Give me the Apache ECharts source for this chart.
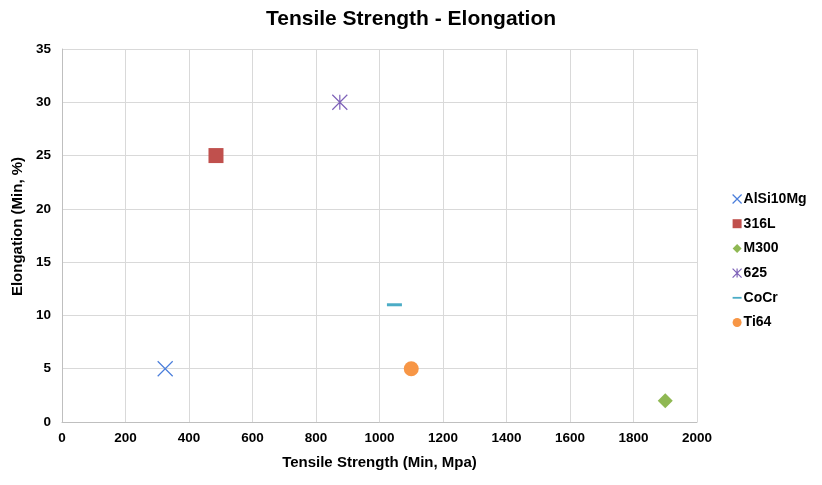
<!DOCTYPE html>
<html><head><meta charset="utf-8">
<script src="https://cdn.jsdelivr.net/npm/echarts@6/dist/echarts.min.js"></script>
<style>html,body{margin:0;padding:0;background:#fff}#c{width:822px;height:485px}</style>
</head><body><div id="c"></div>
<script>
const seriesNames = ['AlSi10Mg', '316L', 'M300', '625', 'CoCr', 'Ti64'];
const tensile = [325, 485, 1900, 875, 1047, 1100];
const elongation = [5, 25, 2, 30, 11, 5];
const colors = ['#4A7EDB', '#C0504D', '#8FB853', '#7E62B8', '#4BACC6', '#F79646'];
const xTicks = [0, 200, 400, 600, 800, 1000, 1200, 1400, 1600, 1800, 2000];
const yTicks = [0, 5, 10, 15, 20, 25, 30, 35];

const X_PATH = 'path://M0,0L10,10M10,0L0,10';
const STAR_PATH = 'path://M0,0L10,10M10,0L0,10M5,0L5,10';
const DASH_PATH = 'path://M0,4L10,4L10,6L0,6Z';
const symbols = [X_PATH, 'rect', 'diamond', STAR_PATH, 'rect', 'circle'];
const legendIcons = [X_PATH, 'rect', 'diamond', STAR_PATH, DASH_PATH, 'circle'];
const sizes = [[15, 15], [15, 15], [15, 15], [15, 15], [15, 3], [15, 15]];
const stroked = [true, false, false, true, false, false];

function style(i) {
  return stroked[i]
    ? { color: 'rgba(0,0,0,0)', borderColor: colors[i], borderWidth: 1.2, opacity: 1 }
    : { color: colors[i], opacity: 1 };
}

const series = seriesNames.map((n, i) => ({
  name: n,
  type: 'scatter',
  data: [[tensile[i], elongation[i]]],
  symbol: symbols[i],
  symbolSize: sizes[i],
  itemStyle: style(i),
  emphasis: { disabled: true }
}));

const legendData = seriesNames.map((n, i) => ({
  name: n,
  icon: legendIcons[i],
  itemStyle: style(i)
}));

const chart = echarts.init(document.getElementById('c'), null, { renderer: 'canvas' });
chart.setOption({
  animation: false,
  backgroundColor: '#fff',
  title: {
    text: 'Tensile Strength - Elongation',
    left: 'center',
    top: 4,
    textStyle: { fontFamily: 'Liberation Sans', fontWeight: 'bold', fontSize: 21, color: '#000' }
  },
  legend: {
    orient: 'vertical',
    left: 727,
    top: 187,
    itemGap: 10.7,
    itemWidth: 9,
    itemHeight: 9,
    data: legendData,
    textStyle: { fontFamily: 'Liberation Sans', fontWeight: 'bold', fontSize: 14, color: '#000', padding: [0, 0, 0, -3] }
  },
  grid: { left: 62, right: 125, top: 49, bottom: 63 },
  xAxis: {
    type: 'value', min: 0, max: 2000, interval: 200,
    name: 'Tensile Strength (Min, Mpa)',
    nameLocation: 'middle', nameGap: 33,
    nameTextStyle: { fontFamily: 'Liberation Sans', fontWeight: 'bold', fontSize: 15, color: '#000' },
    axisLine: { show: true, lineStyle: { color: '#bfbfbf' } },
    axisTick: { show: false },
    splitLine: { show: true, lineStyle: { color: '#d9d9d9' } },
    axisLabel: { fontFamily: 'Liberation Sans', fontWeight: 'bold', fontSize: 13.5, color: '#000', margin: 9,
      formatter: v => xTicks.includes(v) ? String(v) : '' }
  },
  yAxis: {
    type: 'value', min: 0, max: 35, interval: 5,
    name: 'Elongation (Min, %)',
    nameLocation: 'middle', nameGap: 30, nameRotate: 90,
    nameTextStyle: { fontFamily: 'Liberation Sans', fontWeight: 'bold', fontSize: 15, color: '#000', padding: [0, 0, 0, 18] },
    axisLine: { show: true, lineStyle: { color: '#bfbfbf' } },
    axisTick: { show: false },
    splitLine: { show: true, lineStyle: { color: '#d9d9d9' } },
    axisLabel: { fontFamily: 'Liberation Sans', fontWeight: 'bold', fontSize: 13.5, color: '#000', margin: 11,
      formatter: v => yTicks.includes(v) ? String(v) : '' }
  },
  series: series
});
</script>
</body></html>
